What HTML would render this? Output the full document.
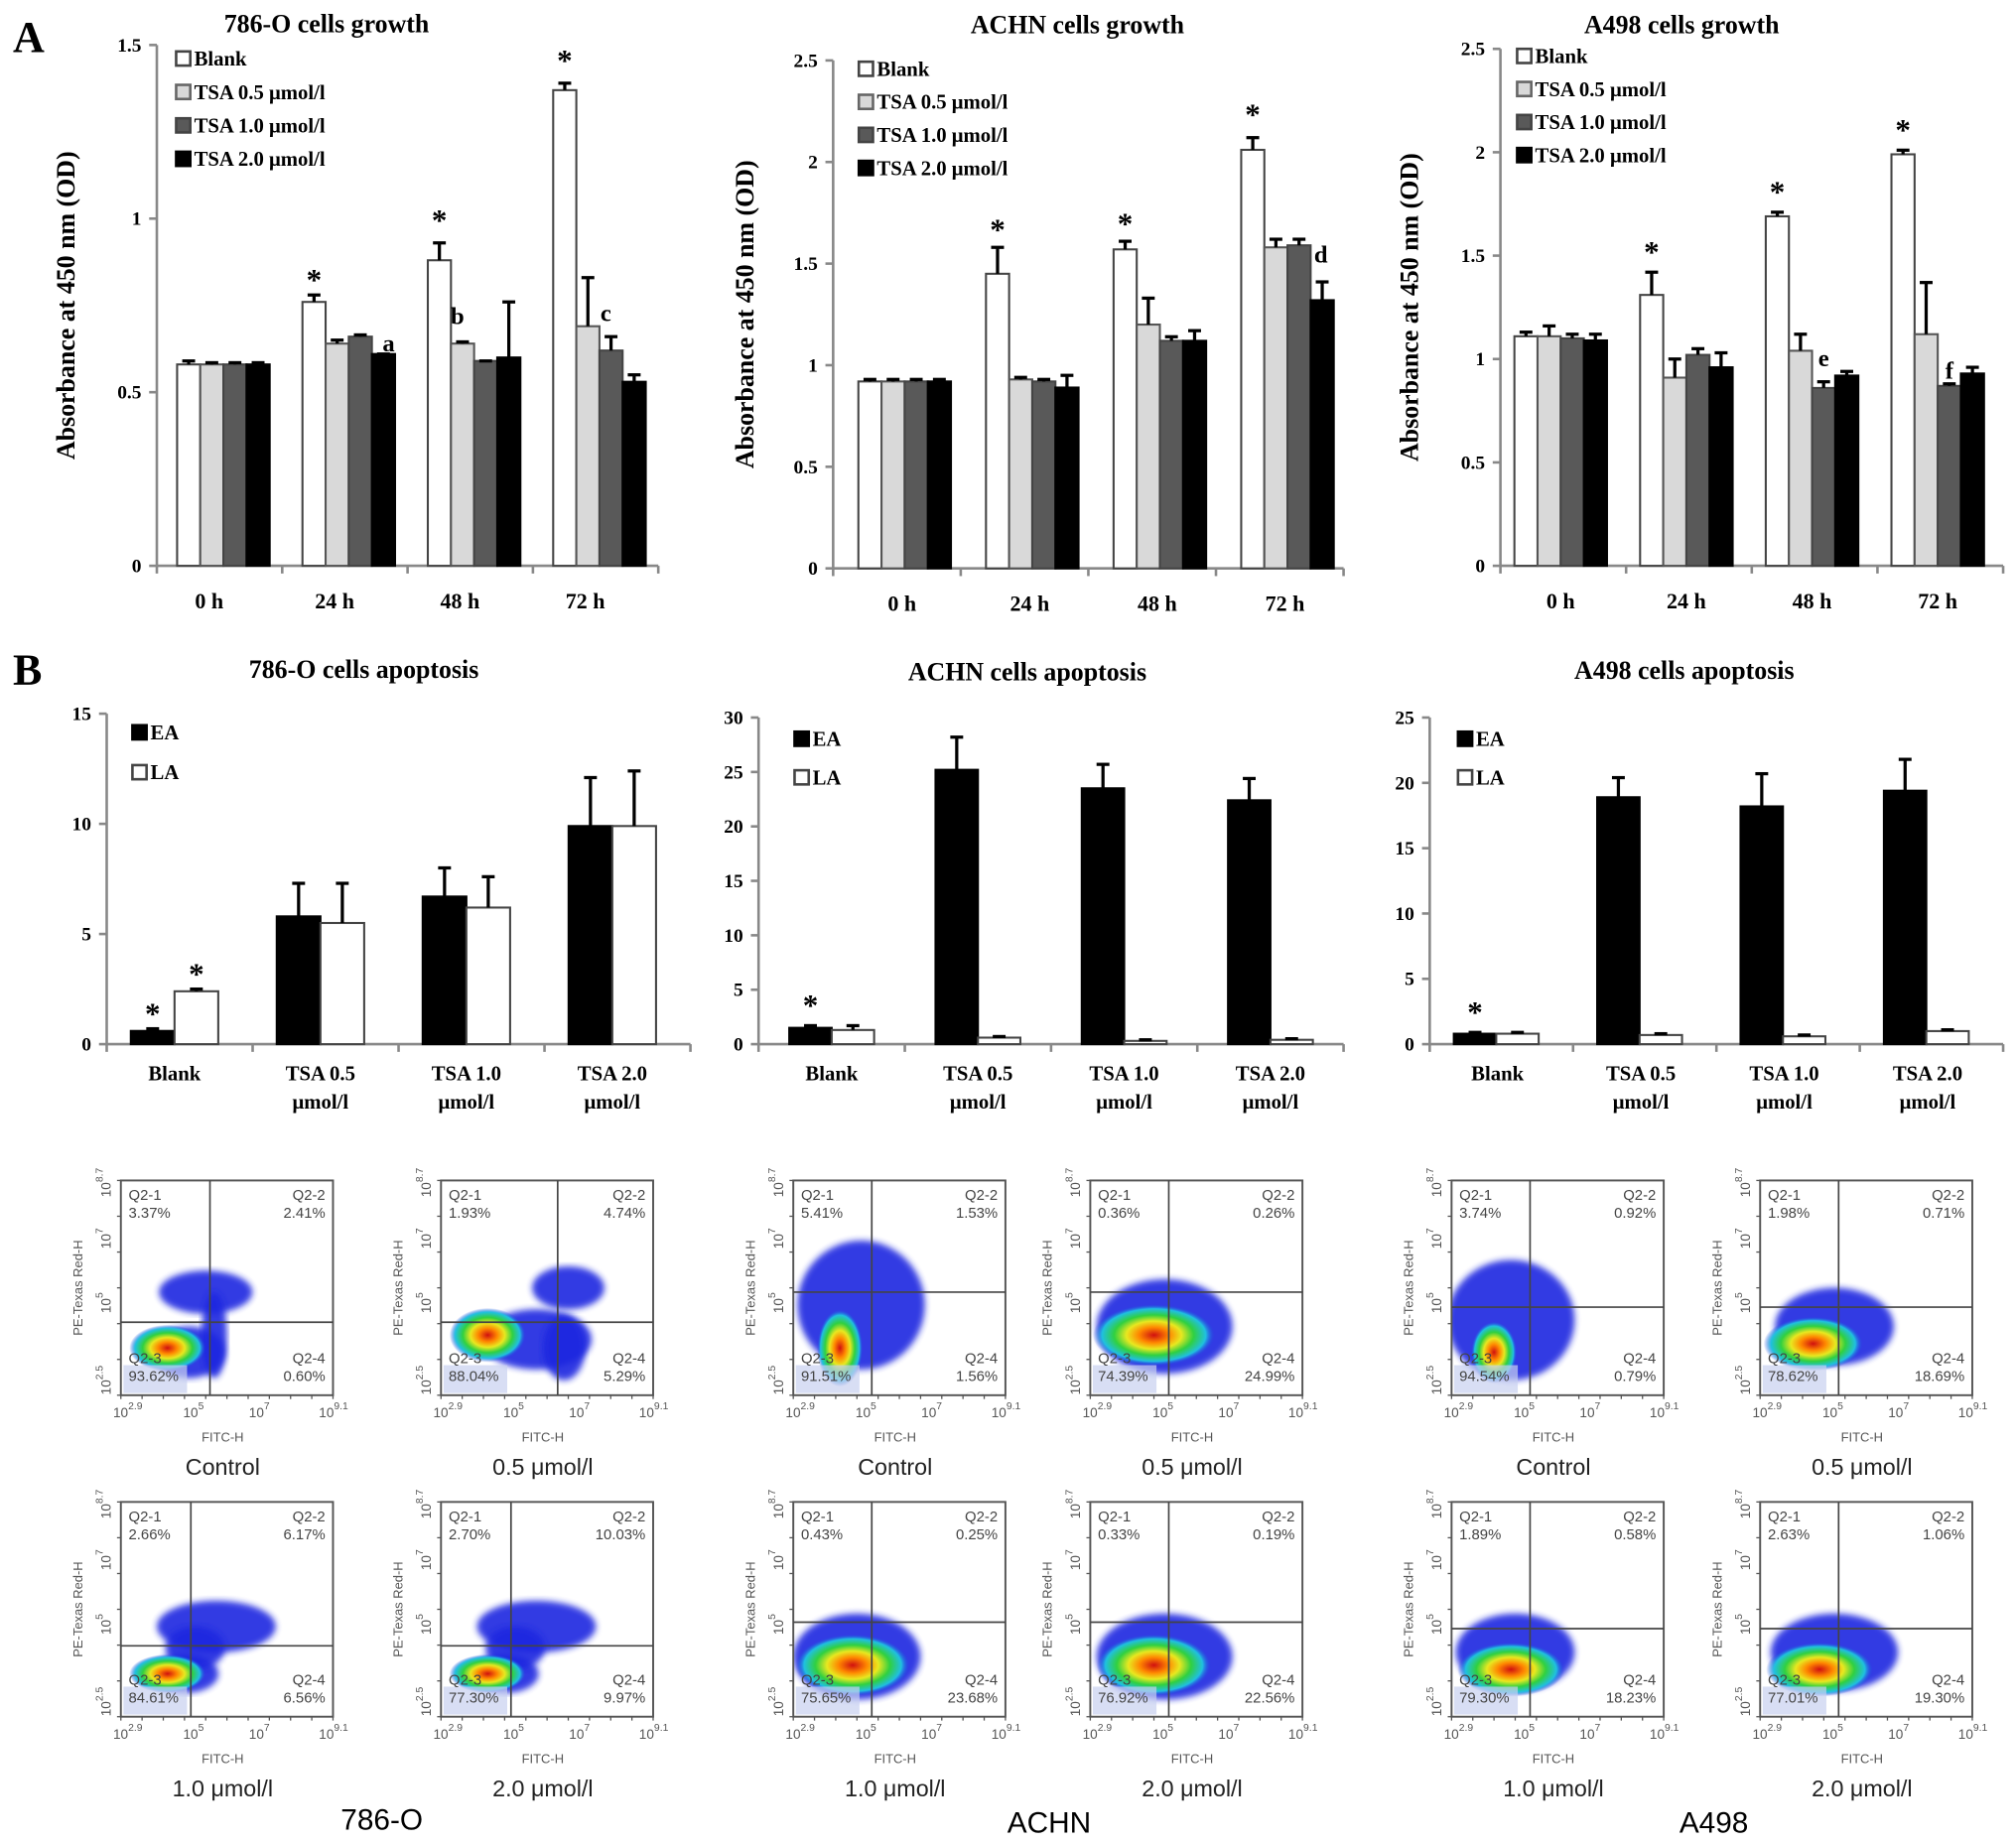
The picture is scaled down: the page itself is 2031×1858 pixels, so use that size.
<!DOCTYPE html>
<html><head><meta charset="utf-8">
<style>
html,body{margin:0;padding:0;background:#fff;}
svg{display:block;}
.serif{font-family:"Liberation Serif",serif;font-weight:bold;}
.sans{font-family:"Liberation Sans",sans-serif;}
</style></head>
<body>
<svg id="fig" width="2031" height="1858" viewBox="0 0 1568 1434" preserveAspectRatio="none" xmlns="http://www.w3.org/2000/svg">
<defs>
<radialGradient id="hot" cx="50%" cy="50%" r="50%">
<stop offset="0" stop-color="#d01010"/>
<stop offset="0.25" stop-color="#ff8800"/>
<stop offset="0.45" stop-color="#e8e820"/>
<stop offset="0.65" stop-color="#30d040"/>
<stop offset="0.85" stop-color="#20c0e0"/>
<stop offset="1" stop-color="#2040e0" stop-opacity="0"/>
</radialGradient>
<filter id="soft"><feGaussianBlur stdDeviation="2.5"/></filter>
</defs>
<text x="10" y="40" class="serif" font-size="34">A</text>
<text x="10" y="532" class="serif" font-size="34">B</text>
</svg>
<script>
const NS='http://www.w3.org/2000/svg';
const svg=document.getElementById('fig');
function mk(tag,attrs,parent,text){const e=document.createElementNS(NS,tag);for(const k in attrs)e.setAttribute(k,attrs[k]);if(text!==undefined)e.textContent=text;(parent||svg).appendChild(e);return e;}

// ---------- Panel A data ----------
const growthCats=['0 h','24 h','48 h','72 h'];
const growthSeries=['Blank','TSA 0.5  μmol/l','TSA 1.0  μmol/l','TSA 2.0  μmol/l'];
const o786Blank=[0.58,0.76,0.88,1.37];
const o786Blank_err=[0.01,0.02,0.05,0.02];
const o786T05=[0.58,0.64,0.64,0.69];
const o786T05_err=[0.005,0.01,0.005,0.14];
const o786T10=[0.58,0.66,0.59,0.62];
const o786T10_err=[0.005,0.005,0.0,0.04];
const o786T20=[0.58,0.61,0.60,0.53];
const o786T20_err=[0.005,0.0,0.16,0.02];
const achnBlank=[0.92,1.45,1.57,2.06];
const achnBlank_err=[0.01,0.13,0.04,0.06];
const achnT05=[0.92,0.93,1.20,1.58];
const achnT05_err=[0.01,0.01,0.13,0.04];
const achnT10=[0.92,0.92,1.12,1.59];
const achnT10_err=[0.01,0.01,0.02,0.03];
const achnT20=[0.92,0.89,1.12,1.32];
const achnT20_err=[0.01,0.06,0.05,0.09];
const a498Blank=[1.11,1.31,1.69,1.99];
const a498Blank_err=[0.02,0.11,0.02,0.02];
const a498T05=[1.11,0.91,1.04,1.12];
const a498T05_err=[0.05,0.09,0.08,0.25];
const a498T10=[1.10,1.02,0.86,0.87];
const a498T10_err=[0.02,0.03,0.03,0.01];
const a498T20=[1.09,0.96,0.92,0.93];
const a498T20_err=[0.03,0.07,0.02,0.03];
const ticks786=[0,0.5,1,1.5];
const ticksAchn=[0,0.5,1,1.5,2,2.5];
const ticksA498=[0,0.5,1,1.5,2,2.5];

// ---------- Panel B data ----------
const apopCats=[['Blank'],['TSA 0.5','μmol/l'],['TSA 1.0','μmol/l'],['TSA 2.0','μmol/l']];
const apopSeries=['EA','LA'];
const ap786EA=[0.6,5.8,6.7,9.9];
const ap786EA_err=[0.1,1.5,1.3,2.2];
const ap786LA=[2.4,5.5,6.2,9.9];
const ap786LA_err=[0.1,1.8,1.4,2.5];
const apAchnEA=[1.5,25.2,23.5,22.4];
const apAchnEA_err=[0.2,3.0,2.2,2.0];
const apAchnLA=[1.3,0.6,0.3,0.4];
const apAchnLA_err=[0.4,0.1,0.1,0.1];
const apA498EA=[0.8,18.9,18.2,19.4];
const apA498EA_err=[0.1,1.5,2.5,2.4];
const apA498LA=[0.8,0.7,0.6,1.0];
const apA498LA_err=[0.1,0.1,0.1,0.1];
const ticksAp786=[0,5,10,15];
const ticksApAchn=[0,5,10,15,20,25,30];
const ticksApA498=[0,5,10,15,20,25];

const growthFills=['#ffffff','#d9d9d9','#595959','#000000'];

function barChart(cfg){
  const g=mk('g',{},svg);
  
  
  const yScale=v=>cfg.y0-(v/cfg.max)*(cfg.y0-cfg.yTop);
  const n=cfg.cats.length;const gw=(cfg.xEnd-cfg.x0)/n;
  const xCenter=i=>cfg.x0+gw*(i+0.5);
  const t=mk('text',{x:cfg.titleX,y:cfg.titleY,'text-anchor':'middle','font-size':20,class:'serif'},g,cfg.title);
  
  if(cfg.ytitle){const yt=mk('text',{x:0,y:0,transform:`translate(${cfg.ytitleX},${(cfg.y0+cfg.yTop)/2}) rotate(-90)`,'text-anchor':'middle','font-size':20,class:'serif'},g,cfg.ytitle);
    }
  const ya=mk('line',{x1:cfg.x0,y1:cfg.yTop,x2:cfg.x0,y2:cfg.y0,stroke:'#888','stroke-width':2},g);
  
  cfg.ticks.forEach(v=>{const y=yScale(v);
    mk('line',{x1:cfg.x0-6,y1:y,x2:cfg.x0,y2:y,stroke:'#888','stroke-width':2},g);
    const tl=mk('text',{x:cfg.x0-12,y:y+5,'text-anchor':'end','font-size':15,class:'serif'},g,String(v));
    });
  const xa=mk('line',{x1:cfg.x0,y1:cfg.y0,x2:cfg.xEnd,y2:cfg.y0,stroke:'#888','stroke-width':2},g);
  
  for(let i=0;i<=n;i++){const x=cfg.x0+gw*i;mk('line',{x1:x,y1:cfg.y0,x2:x,y2:cfg.y0+6,stroke:'#888','stroke-width':2},g);}
  cfg.cats.forEach((c,i)=>{const lines=Array.isArray(c)?c:[c];
    lines.forEach((l,k)=>{const tl=mk('text',{x:xCenter(i)+(cfg.labelDx||0),y:cfg.y0+cfg.labelDy+k*22,'text-anchor':'middle','font-size':cfg.labelSize||17,class:'serif'},g,l);
      });});
  const ns=cfg.series.length;const bw=cfg.bw;
  cfg.series.forEach((vals,s)=>{vals.forEach((v,i)=>{
    const x=xCenter(i)-ns*bw/2+s*bw+(cfg.barDx||0);const y=yScale(v);
    const r=mk('rect',{x:x,y:y,width:bw,height:cfg.y0-y,fill:cfg.fills[s],stroke:cfg.strokes[s],'stroke-width':1.6},g);
    
    
    const e=cfg.errs[s][i];const ye=yScale(v+e);const xc=x+bw/2;
    mk('line',{x1:xc,y1:y,x2:xc,y2:ye,stroke:'#000','stroke-width':2.5},g);
    mk('line',{x1:xc-5,y1:ye,x2:xc+5,y2:ye,stroke:'#000','stroke-width':2.5},g);
  });});
  (cfg.ann||[]).forEach(a=>{const [ci,si,txt,dx,dy]=a;
    const x=xCenter(ci)-ns*bw/2+si*bw+bw/2+(cfg.barDx||0)+dx;
    const y=yScale(cfg.series[si][ci]+cfg.errs[si][ci])+dy;
    const at=mk('text',{x:x,y:y,'text-anchor':'middle','font-size':txt==='*'?24:19,class:'serif'},g,txt);
    });
  cfg.seriesNames.forEach((nm,s)=>{const ly=cfg.legY+s*cfg.legStep;
    const le=mk('g',{},g);
    mk('rect',{x:cfg.legX,y:ly-11,width:11,height:11,fill:cfg.fills[s],stroke:cfg.legStroke[s],'stroke-width':2},le);
    mk('text',{x:cfg.legX+14,y:ly,'font-size':16,class:'serif'},le,nm);});
}

const gStroke=['#444','#555','#444','#000'];
barChart({name:'chart-786o-growth',title:'786-O cells growth',titleX:254,titleY:25,ytitle:'Absorbance at 450 nm (OD)',ytitleX:58,
 x0:122,xEnd:512,y0:440,yTop:35,max:1.5,ticks:ticks786,cats:growthCats,labelDy:33,labelDx:-8,bw:18,barDx:3,
 series:[o786Blank,o786T05,o786T10,o786T20],errs:[o786Blank_err,o786T05_err,o786T10_err,o786T20_err],
 fills:growthFills,strokes:gStroke,seriesNames:growthSeries,legX:137,legY:51,legStep:26,legStroke:['#444','#666','#444','#000'],
 ann:[[1,0,'*',0,-4],[2,0,'*',0,-10],[3,0,'*',0,-10],[1,3,'a',4,-2],[2,1,'b',-4,-14],[3,2,'c',-4,-12]]});
barChart({name:'chart-achn-growth',title:'ACHN cells growth',titleX:838,titleY:26,ytitle:'Absorbance at 450 nm (OD)',ytitleX:586,
 x0:648,xEnd:1045,y0:442,yTop:47,max:2.5,ticks:ticksAchn,cats:growthCats,labelDy:33,labelDx:4,bw:18,barDx:6,
 series:[achnBlank,achnT05,achnT10,achnT20],errs:[achnBlank_err,achnT05_err,achnT10_err,achnT20_err],
 fills:growthFills,strokes:gStroke,seriesNames:growthSeries,legX:668,legY:59,legStep:25.7,legStroke:['#444','#666','#444','#000'],
 ann:[[1,0,'*',0,-6],[2,0,'*',0,-6],[3,0,'*',0,-10],[3,2,'d',17,18]]});
barChart({name:'chart-a498-growth',title:'A498 cells growth',titleX:1308,titleY:26,ytitle:'Absorbance at 450 nm (OD)',ytitleX:1103,
 x0:1167,xEnd:1558,y0:440,yTop:38,max:2.5,ticks:ticksA498,cats:growthCats,labelDy:33,labelDx:-2,bw:18,barDx:-2,
 series:[a498Blank,a498T05,a498T10,a498T20],errs:[a498Blank_err,a498T05_err,a498T10_err,a498T20_err],
 fills:growthFills,strokes:gStroke,seriesNames:growthSeries,legX:1180,legY:49,legStep:25.7,legStroke:['#444','#666','#444','#000'],
 ann:[[1,0,'*',0,-8],[2,0,'*',0,-8],[3,0,'*',0,-8],[2,2,'e',0,-12],[3,2,'f',0,-4]]});

const apFills=['#000000','#ffffff'];const apStrokes=['#000','#444'];
barChart({name:'chart-786o-apoptosis',title:'786-O cells apoptosis',titleX:283,titleY:527,
 x0:83,xEnd:537,y0:812,yTop:555,max:15,ticks:ticksAp786,cats:apopCats,labelDy:28,labelSize:16,labelDx:-4,bw:34,barDx:-4,
 series:[ap786EA,ap786LA],errs:[ap786EA_err,ap786LA_err],fills:apFills,strokes:apStrokes,seriesNames:apopSeries,
 legX:103,legY:575,legStep:31,legStroke:['#000','#444'],ann:[[0,0,'*',0,-4],[0,1,'*',0,-4]]});
barChart({name:'chart-achn-apoptosis',title:'ACHN cells apoptosis',titleX:799,titleY:529,
 x0:590,xEnd:1045,y0:812,yTop:558,max:30,ticks:ticksApAchn,cats:apopCats,labelDy:28,labelSize:16,bw:33,
 series:[apAchnEA,apAchnLA],errs:[apAchnEA_err,apAchnLA_err],fills:apFills,strokes:apStrokes,seriesNames:apopSeries,
 legX:618,legY:580,legStep:30,legStroke:['#000','#444'],ann:[[0,0,'*',0,-8]]});
barChart({name:'chart-a498-apoptosis',title:'A498 cells apoptosis',titleX:1310,titleY:528,
 x0:1112,xEnd:1558,y0:812,yTop:558,max:25,ticks:ticksApA498,cats:apopCats,labelDy:28,labelSize:16,labelDx:-3,bw:33,barDx:-4,
 series:[apA498EA,apA498LA],errs:[apA498EA_err,apA498LA_err],fills:apFills,strokes:apStrokes,seriesNames:apopSeries,
 legX:1134,legY:580,legStep:30,legStroke:['#000','#444'],ann:[[0,0,'*',0,-8]]});

// ---------- Flow cytometry plots ----------
const flowCaptions=['Control','0.5 μmol/l','1.0 μmol/l','2.0 μmol/l'];
const flow786=[[3.37,2.41,93.62,0.60],[1.93,4.74,88.04,5.29],[2.66,6.17,84.61,6.56],[2.70,10.03,77.30,9.97]];
const flowAchn=[[5.41,1.53,91.51,1.56],[0.36,0.26,74.39,24.99],[0.43,0.25,75.65,23.68],[0.33,0.19,76.92,22.56]];
const flowA498=[[3.74,0.92,94.54,0.79],[1.98,0.71,78.62,18.69],[1.89,0.58,79.30,18.23],[2.63,1.06,77.01,19.30]];
const groups=[
 {name:'786-O',data:flow786,lefts:[94,343],label:[297,1423],
  gates:[[0.42,0.66],[0.55,0.66],[0.33,0.67],[0.33,0.67]],
  blobs:[[[0.4,0.52,0.22,0.1],[0.32,0.8,0.17,0.12],[0.44,0.72,0.06,0.2]],[[0.6,0.5,0.17,0.1],[0.45,0.74,0.26,0.14],[0.58,0.78,0.1,0.15]],[[0.45,0.58,0.28,0.12],[0.3,0.8,0.16,0.09],[0.35,0.68,0.14,0.1]],[[0.45,0.58,0.28,0.12],[0.3,0.8,0.16,0.09],[0.35,0.68,0.14,0.1]]],
  hot:[[0.22,0.78,0.1,0.06],[0.22,0.72,0.1,0.07],[0.22,0.8,0.1,0.05],[0.22,0.8,0.1,0.05]]},
 {name:'ACHN',data:flowAchn,lefts:[617,848],label:[816,1425],
  gates:[[0.37,0.52],[0.37,0.52],[0.37,0.56],[0.37,0.56]],
  blobs:[[[0.32,0.58,0.3,0.3]],[[0.35,0.68,0.32,0.22]],[[0.3,0.72,0.3,0.2]],[[0.35,0.72,0.32,0.2]]],
  hot:[[0.22,0.78,0.06,0.1],[0.3,0.72,0.16,0.08],[0.28,0.76,0.15,0.08],[0.3,0.76,0.15,0.08]]},
 {name:'A498',data:flowA498,lefts:[1129,1369],label:[1333,1425],
  gates:[[0.37,0.59],[0.37,0.59],[0.37,0.59],[0.37,0.59]],
  blobs:[[[0.28,0.65,0.3,0.28]],[[0.35,0.68,0.28,0.18]],[[0.3,0.7,0.28,0.18]],[[0.35,0.7,0.3,0.18]]],
  hot:[[0.2,0.8,0.06,0.08],[0.25,0.76,0.13,0.07],[0.28,0.78,0.14,0.07],[0.28,0.78,0.14,0.07]]}
];
const rowTops=[918,1168];const BW=165,BH=167;
let clipId=0;
groups.forEach(G=>{
  const gg=mk('g',{},svg);
  const gl=mk('text',{x:G.label[0],y:G.label[1],'text-anchor':'middle','font-size':23,class:'sans'},gg,G.name);
  
  G.data.forEach((pc,k)=>{
    const L=G.lefts[k%2],T=rowTops[Math.floor(k/2)];
    const p=mk('g',{},gg);
    const cid='c'+(clipId++);
    const cp=mk('clipPath',{id:cid},p);mk('rect',{x:L,y:T,width:BW,height:BH},cp);
    const cloud=mk('g',{'clip-path':`url(#${cid})`},p);
    G.blobs[k].forEach(b=>{mk('ellipse',{cx:L+b[0]*BW,cy:T+b[1]*BH,rx:b[2]*BW,ry:b[3]*BH,fill:'#1a28e0',opacity:0.9,filter:'url(#soft)'},cloud);});
    const h=G.hot[k];
    mk('ellipse',{cx:L+h[0]*BW,cy:T+h[1]*BH,rx:h[2]*BW*1.8,ry:h[3]*BH*1.8,fill:'url(#hot)'},cloud);
    mk('rect',{x:L+2,y:T+BH*0.86,width:BW*0.3,height:BH*0.13,fill:'#c8d0f0',opacity:0.7},cloud);
    mk('rect',{x:L,y:T,width:BW,height:BH,fill:'none',stroke:'#555','stroke-width':1.5},p);
    const gx=L+G.gates[k][0]*BW,gy=T+G.gates[k][1]*BH;
    mk('line',{x1:gx,y1:T,x2:gx,y2:T+BH,stroke:'#444','stroke-width':1.3},p);
    mk('line',{x1:L,y1:gy,x2:L+BW,y2:gy,stroke:'#444','stroke-width':1.3},p);
    const fs=11.5;const tc='#444';
    const q=[['Q2-1',pc[0],L+6,T+15,'start'],['Q2-2',pc[1],L+BW-6,T+15,'end'],['Q2-3',pc[2],L+6,T+BH-25,'start'],['Q2-4',pc[3],L+BW-6,T+BH-25,'end']];
    q.forEach(a=>{const qt=mk('text',{x:a[2],y:a[3],'text-anchor':a[4],'font-size':fs,fill:tc,class:'sans'},p);
      
      mk('tspan',{x:a[2],dy:0},qt,a[0]);mk('tspan',{x:a[2],dy:14},qt,a[1].toFixed(2)+'%');});
    [['2.9',0],['5',0.33],['7',0.64],['9.1',0.97]].forEach(t=>{const x=L+t[1]*BW;
      const tt=mk('text',{x:x-6,y:T+BH+17,'font-size':10.5,fill:'#555',class:'sans'},p);
      mk('tspan',{},tt,'10');mk('tspan',{dy:-6,'font-size':8},tt,t[0]);});
    for(let i=0;i<=10;i++){const x=L+i*BW/10;mk('line',{x1:x,y1:T+BH,x2:x,y2:T+BH+3,stroke:'#555','stroke-width':1},p);}
    const xt=mk('text',{x:L+BW*0.48,y:T+BH+36,'text-anchor':'middle','font-size':10,fill:'#555',class:'sans'},p,'FITC-H');
    
    [['2.5',0.95],['5',0.57],['7',0.27],['8.7',0.03]].forEach(t=>{const y=T+t[1]*BH;
      const tt=mk('text',{x:0,y:0,transform:`translate(${L-8},${y+8}) rotate(-90)`,'font-size':10.5,fill:'#555',class:'sans'},p);
      mk('tspan',{},tt,'10');mk('tspan',{dy:-6,'font-size':8},tt,t[0]);});
    for(let i=0;i<=6;i++){const y=T+i*BH/6;mk('line',{x1:L-3,y1:y,x2:L,y2:y,stroke:'#555','stroke-width':1},p);}
    const yt=mk('text',{x:0,y:0,transform:`translate(${L-30},${T+BH*0.5}) rotate(-90)`,'text-anchor':'middle','font-size':10,fill:'#555',class:'sans'},p,'PE-Texas Red-H');
    
    const cap=mk('text',{x:L+BW*0.48,y:T+BH+62,'text-anchor':'middle','font-size':18,fill:'#222',class:'sans'},p,flowCaptions[k]);
    
  });
});
</script>
</body></html>
